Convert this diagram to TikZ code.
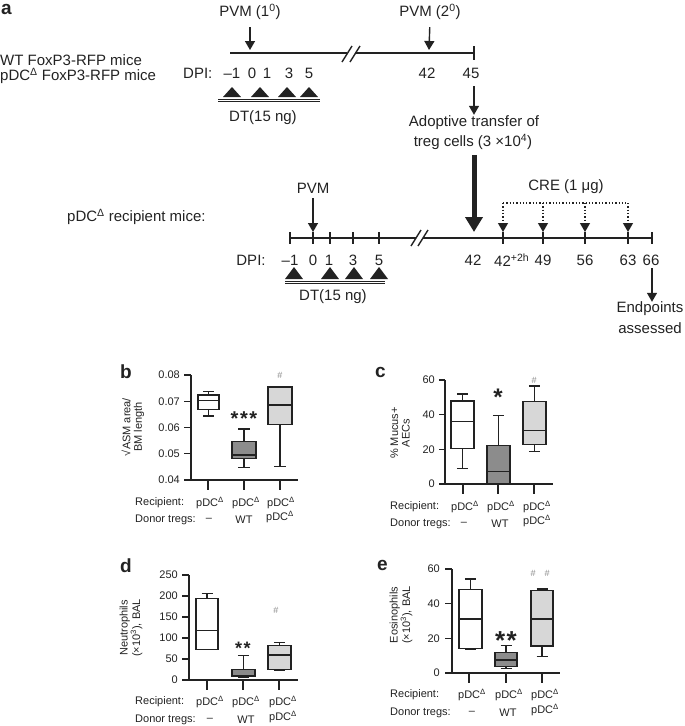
\documentclass[tikz,border=0pt]{standalone}
\usepackage{fontspec}
\setmainfont{Liberation Sans}
\usetikzlibrary{arrows.meta}
\definecolor{dkbox}{HTML}{8C8C8C}
\definecolor{ltbox}{HTML}{D7D7D7}
\definecolor{hashc}{HTML}{8A8A8A}
\definecolor{inkc}{HTML}{222222}
\newcommand\bplot[8]{%
 \pgfmathsetmacro\bpm{(#1+#2)/2}%
 \pgfmathsetmacro\bpw{(#2-#1)/4}%
 \pgfmathsetmacro\bpa{\Yz-(#3-\Vz)*\Sc}%
 \pgfmathsetmacro\bpb{\Yz-(#4-\Vz)*\Sc}%
 \pgfmathsetmacro\bpc{\Yz-(#5-\Vz)*\Sc}%
 \pgfmathsetmacro\bpd{\Yz-(#6-\Vz)*\Sc}%
 \pgfmathsetmacro\bpe{\Yz-(#7-\Vz)*\Sc}%
 \draw[bxl] (\bpm,\bpa) -- (\bpm,\bpb) (\bpm,\bpd) -- (\bpm,\bpe);
 \draw[bxl] (\bpm-\bpw,\bpa) -- (\bpm+\bpw,\bpa) (\bpm-\bpw,\bpe) -- (\bpm+\bpw,\bpe);
 \draw[bxl,fill=#8] (#1,\bpb) rectangle (#2,\bpd);
 \draw[bxl] (#1,\bpc) -- (#2,\bpc);
}
\newcommand\dtri[3]{\fill[inkc] (#1-9,#2) -- (#1+9,#2) -- (#1,#2-#3) -- cycle;}
\begin{document}
\begin{tikzpicture}[x=1pt,y=-1pt,
  big/.style={font=\fontsize{15}{16}\selectfont,inner sep=0pt,text=inkc},
  sm/.style={font=\fontsize{11}{11.5}\selectfont,inner sep=0pt,text=inkc},
  plet/.style={font=\fontsize{19}{19}\selectfont\bfseries,inner sep=0pt,text=inkc},
  hs/.style={font=\fontsize{9}{9}\selectfont,inner sep=0pt,text=hashc},
  star/.style={inner sep=0pt,text=inkc,anchor=base},
  tline/.style={line width=1.4pt,draw=inkc},
  ax/.style={line width=1.3pt,draw=inkc},
  bxl/.style={line width=1.2pt,draw=inkc},
  parrow/.style={line width=1.4pt,draw=inkc,-{Triangle[length=9pt,width=10pt]}},
  fatarrow/.style={line width=5pt,draw=inkc,-{Triangle[length=15pt,width=17pt]}},
  dotarrow/.style={line width=1.3pt,draw=inkc,dotted,-{Triangle[length=9pt,width=10pt]}}]
\useasboundingbox (0,0) rectangle (685,726);
%%%%%%%% panel a, first timeline
\node[plet,anchor=base west] (la) at (1,14) {a};
\node[big] (pvm1) at (250,12) {PVM (1\textsuperscript{0})};
\node[big] (pvm2) at (430,12) {PVM (2\textsuperscript{0})};
\node[big,anchor=west] (wt) at (0,60) {WT FoxP3-RFP mice};
\node[big,anchor=west] (pdcm) at (0,76) {pDC\textsuperscript{Δ} FoxP3-RFP mice};
\draw[tline] (230,53) -- (347,53) (355,53) -- (474,53);
\draw[tline] (474,46) -- (474,60);
\draw[tline] (342,62) -- (352,46) (350,62) -- (360,46);
\coordinate (t1a) at (250,50);
\coordinate (t1b) at (429,50);
\draw[parrow,shorten <=7pt] (pvm1.south) -- (t1a);
\draw[parrow,shorten <=7pt] (pvm2.south) -- (t1b);
\node[big,anchor=west] (dpi1) at (183,73) {DPI:};
\node[big] (d1m) at (232,73) {–1};
\node[big] (d10) at (252,73) {0};
\node[big] (d11) at (267,73) {1};
\node[big] (d13) at (289,73) {3};
\node[big] (d15) at (309,73) {5};
\node[big] (d142) at (427,73) {42};
\node[big] (d145) at (471,73) {45};
\foreach \x in {232,260,287,309} {\dtri{\x}{97}{10}}
\draw[line width=0.9pt,draw=inkc] (218,99.2) -- (320,99.2) (218,101.8) -- (320,101.8);
\node[big] (dt1) at (263,118) {DT(15 ng)};
\node[big] (adopt1) at (474,123) {Adoptive transfer of};
\node[big] (adopt2) at (473,142) {treg cells (3 ×10\textsuperscript{4})};
\draw[parrow,shorten <=8pt,shorten >=1pt] (d145.south -| 474,73) -- (adopt1.north -| 474,0);
%%%%%%%% second timeline
\node[big,anchor=west] (rec) at (67,217) {pDC\textsuperscript{Δ} recipient mice:};
\node[big] (pvm3) at (313,188) {PVM};
\coordinate (t2a) at (313,232);
\draw[parrow,shorten <=5pt] (pvm3.south) -- (t2a);
\draw[tline] (290,238) -- (416,238) (423,238) -- (652,238);
\draw[tline] (411,246) -- (421,230) (418,246) -- (428,230);
\foreach \x in {290,313,330,353,379,503,543,585,628,652} {\draw[tline] (\x,232) -- (\x,244);}
\coordinate (t2fat) at (474,232);
\draw[fatarrow,shorten <=5pt] (adopt2.south -| 474,0) -- (t2fat);
\node[big] (dpi2) at (251,260) {DPI:};
\node[big] (e1m) at (290,260) {–1};
\node[big] (e10) at (313,260) {0};
\node[big] (e11) at (329,260) {1};
\node[big] (e13) at (353,260) {3};
\node[big] (e15) at (379,260) {5};
\node[big] (e42) at (473,260) {42};
\node[big,anchor=west] (e42b) at (494,260) {42\textsuperscript{+2h}};
\node[big] (e49) at (543,260) {49};
\node[big] (e56) at (585,260) {56};
\node[big] (e63) at (628,260) {63};
\node[big] (e66) at (651,260) {66};
\foreach \x in {294,330,354,379} {\dtri{\x}{279}{12}}
\draw[line width=0.9pt,draw=inkc] (285,281) -- (385,281) (285,283.6) -- (385,283.6);
\node[big] (dt2) at (333,297) {DT(15 ng)};
\node[big] (cre) at (566,187) {CRE (1 μg)};
\coordinate (cr1) at (503,203);
\coordinate (cr4) at (628,203);
\draw[line width=1.3pt,draw=inkc,dotted] (cr1) -- (cr4);
\foreach \x [count=\i] in {503,543,585,628} {
  \coordinate (cra\i) at (\x,203);
  \coordinate (crb\i) at (\x,232);
  \draw[dotarrow] (cra\i) -- (crb\i);}
\node[big] (endp) at (650,309) {Endpoints};
\node[big] (asse) at (650,328) {assessed};
\coordinate (e66b) at (652,268);
\draw[parrow] (e66b) -- (endp.north -| 652,0);
%%%%%%%% panel b
\node[plet,anchor=base west] (lb) at (120,378) {b};
\def\Yz{480}\def\Vz{0.04}\def\Sc{2625}
\draw[ax] (191,375) -- (191,480) -- (298,480);
\foreach \v [count=\i] in {0.04,0.05,0.06,0.07,0.08} {
  \pgfmathsetmacro\bpy{\Yz-(\v-\Vz)*\Sc}
  \draw[ax] (184,\bpy) -- (191,\bpy);
  \node[sm,anchor=east] (bt\i) at (180,\bpy) {\v};}
\foreach \x in {208,244,280} {\draw[ax] (\x,480) -- (\x,490);}
\bplot{198}{219}{0.0644}{0.0670}{0.0702}{0.0724}{0.0736}{white}
\bplot{232}{256}{0.0448}{0.0483}{0.0495}{0.0546}{0.0594}{dkbox}
\bplot{268}{292}{0.0450}{0.0610}{0.0686}{0.0754}{0.0757}{ltbox}
\node[sm,rotate=90,align=center] (byl) at (133,427) {√ASM area/\\BM length};
\node[star,font=\fontsize{20}{20}\selectfont\bfseries] (bst) at (244,425) {*\hspace{1.6pt}*\hspace{1.6pt}*};
\node[hs] (bh) at (280,375) {\#};
\node[sm,anchor=west] (brec) at (135,503) {Recipient:};
\node[sm,anchor=west] (bdon) at (135,520) {Donor tregs:};
\node[sm] (br1) at (210,503) {pDC\textsuperscript{Δ}};
\node[sm] (br2) at (246,503) {pDC\textsuperscript{Δ}};
\node[sm] (br3) at (281,503) {pDC\textsuperscript{Δ}};
\node[sm] (bd1) at (209,520) {–};
\node[sm] (bd2) at (244,520) {WT};
\node[sm] (bd3) at (280,517) {pDC\textsuperscript{Δ}};
%%%%%%%% panel c
\node[plet,anchor=base west] (lc) at (375,377) {c};
\def\Yz{484}\def\Vz{0}\def\Sc{1.73333}
\draw[ax] (445,380) -- (445,484) -- (553,484);
\foreach \v [count=\i] in {0,20,40,60} {
  \pgfmathsetmacro\bpy{\Yz-(\v-\Vz)*\Sc}
  \draw[ax] (439,\bpy) -- (445,\bpy);
  \node[sm,anchor=east] (ct\i) at (435,\bpy) {\v};}
\foreach \x in {463,498,534} {\draw[ax] (\x,484) -- (\x,494);}
\bplot{451}{474}{8.8}{20.6}{35.9}{47.9}{51.9}{white}
\bplot{487}{510}{0}{0.3}{7.1}{22.1}{39.4}{dkbox}
\bplot{523}{546}{18.6}{22.9}{30.8}{47.5}{56.5}{ltbox}
\node[sm,rotate=90,align=center] (cyl) at (400,433) {\% Mucus+\\AECs};
\node[star,font=\fontsize{24}{24}\selectfont\bfseries] (cst) at (498,405) {*};
\node[hs] (ch) at (534,380) {\#};
\node[sm,anchor=west] (crec) at (390,507) {Recipient:};
\node[sm,anchor=west] (cdon) at (390,524) {Donor tregs:};
\node[sm] (cr1) at (465,507) {pDC\textsuperscript{Δ}};
\node[sm] (cr2) at (501,507) {pDC\textsuperscript{Δ}};
\node[sm] (cr3) at (537,507) {pDC\textsuperscript{Δ}};
\node[sm] (cd1) at (464,524) {–};
\node[sm] (cd2) at (500,524) {WT};
\node[sm] (cd3) at (537,521) {pDC\textsuperscript{Δ}};
%%%%%%%% panel d
\node[plet,anchor=base west] (ld) at (120,572) {d};
\def\Yz{680}\def\Vz{0}\def\Sc{0.42}
\draw[ax] (189,575) -- (189,680) -- (298,680);
\foreach \v [count=\i] in {0,50,100,150,200,250} {
  \pgfmathsetmacro\bpy{\Yz-(\v-\Vz)*\Sc}
  \draw[ax] (182,\bpy) -- (189,\bpy);
  \node[sm,anchor=east] (dt\i) at (178,\bpy) {\v};}
\foreach \x in {207,243,279} {\draw[ax] (\x,680) -- (\x,690);}
\bplot{196}{218}{73}{73}{117}{193.6}{206}{white}
\bplot{232}{255}{6.4}{8}{10}{25.4}{58}{dkbox}
\bplot{268}{291}{22}{25.4}{59.5}{81.7}{89}{ltbox}
\node[sm,rotate=90,align=center] (dyl) at (131,628) {Neutrophils\\(×10\textsuperscript{3}), BAL};
\node[star,font=\fontsize{18}{18}\selectfont\bfseries] (dst) at (243,654) {*\hspace{1.5pt}*};
\node[hs] (dh) at (276,610) {\#};
\node[sm,anchor=west] (drec) at (135,702) {Recipient:};
\node[sm,anchor=west] (ddon) at (135,720) {Donor tregs:};
\node[sm] (dr1) at (210,702) {pDC\textsuperscript{Δ}};
\node[sm] (dr2) at (246,702) {pDC\textsuperscript{Δ}};
\node[sm] (dr3) at (283,702) {pDC\textsuperscript{Δ}};
\node[sm] (dd1) at (210,720) {–};
\node[sm] (dd2) at (246,720) {WT};
\node[sm] (dd3) at (283,717) {pDC\textsuperscript{Δ}};
%%%%%%%% panel e
\node[plet,anchor=base west] (le) at (377,570) {e};
\def\Yz{673}\def\Vz{0}\def\Sc{1.73333}
\draw[ax] (452,569) -- (452,673) -- (560,673);
\foreach \v [count=\i] in {0,20,40,60} {
  \pgfmathsetmacro\bpy{\Yz-(\v-\Vz)*\Sc}
  \draw[ax] (445,\bpy) -- (452,\bpy);
  \node[sm,anchor=east] (et\i) at (440,\bpy) {\v};}
\foreach \x in {469,506,542} {\draw[ax] (\x,673) -- (\x,683);}
\bplot{459}{482}{13.8}{14.2}{31.2}{48.3}{54.2}{white}
\bplot{495}{517}{2.5}{3.6}{7.5}{11.7}{15.8}{dkbox}
\bplot{531}{553}{9.4}{15.6}{31.2}{47.5}{48.5}{ltbox}
\node[sm,rotate=90,align=center] (eyl) at (401,615) {Eosinophils\\(×10\textsuperscript{3}), BAL};
\node[star,font=\fontsize{26}{26}\selectfont\bfseries] (est) at (506,649) {*\hspace{1.5pt}*};
\node[hs] (eh1) at (533,573) {\#};
\node[hs] (eh2) at (547,573) {\#};
\node[sm,anchor=west] (erec) at (390,695) {Recipient:};
\node[sm,anchor=west] (edon) at (390,713) {Donor tregs:};
\node[sm] (er1) at (472,695) {pDC\textsuperscript{Δ}};
\node[sm] (er2) at (509,695) {pDC\textsuperscript{Δ}};
\node[sm] (er3) at (545,695) {pDC\textsuperscript{Δ}};
\node[sm] (ed1) at (472,713) {–};
\node[sm] (ed2) at (508,713) {WT};
\node[sm] (ed3) at (545,710) {pDC\textsuperscript{Δ}};
\end{tikzpicture}
\end{document}
